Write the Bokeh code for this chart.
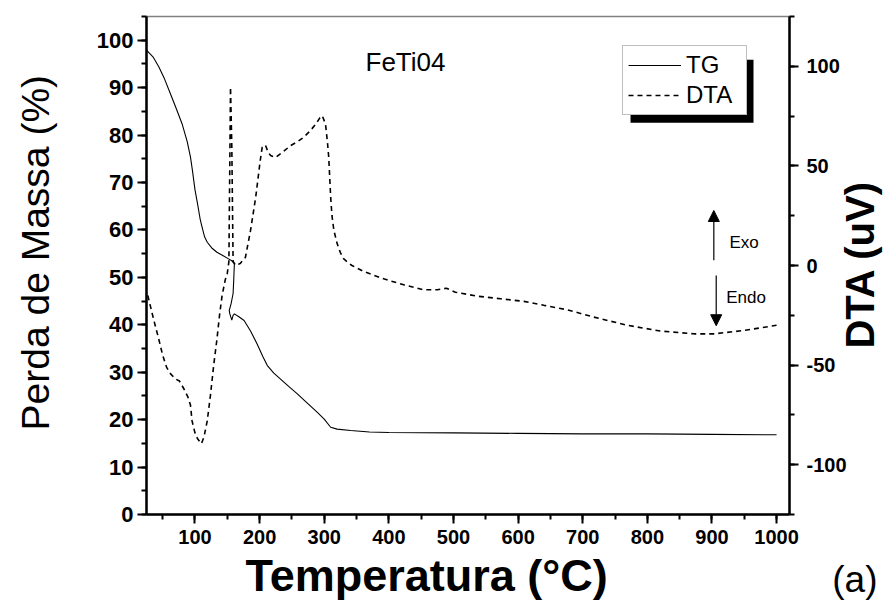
from math import pi
from bokeh.plotting import figure
from bokeh.models import (Range1d, LinearAxis, SingleIntervalTicker, Legend, LegendItem,
                          Label, Arrow, NormalHead, BoxAnnotation, Title, PrintfTickFormatter)
from bokeh.embed import file_html
from bokeh.resources import INLINE

# ---- data ----
tg_temp = [25, 35, 44, 53, 62, 71, 80, 88, 93, 96, 100, 104, 108, 111, 115, 119, 126, 134,
           143, 152, 157, 161, 160, 159, 156, 153, 154, 157, 159, 161, 168, 176, 186, 196,
           205, 212, 222, 232, 245, 258, 273, 289, 300, 310, 320, 341, 370, 400, 500, 600,
           700, 800, 900, 1000]
tg_mass = [97.9, 96.5, 94.4, 91.8, 88.7, 85.6, 82.4, 78.6, 75.4, 72.6, 68.5, 65.5, 62.3, 60.6,
           58.5, 57.4, 56.2, 55.3, 54.6, 53.9, 53.5, 52.9, 49.5, 46.6, 44.5, 43.0, 42.3, 41.0,
           42.0, 42.3, 41.7, 40.9, 38.7, 36.0, 33.3, 31.4, 29.8, 28.6, 27.0, 25.5, 23.6, 21.6,
           20.1, 18.4, 18.0, 17.7, 17.4, 17.3, 17.2, 17.1, 17.0, 17.0, 16.9, 16.8]

dta_temp = [27, 36, 44, 50, 56, 62, 70, 76, 83, 89, 93, 95.5, 100, 104, 110, 114, 119, 124,
            129, 134, 138, 142, 147, 150, 152.5, 155, 157, 159, 163, 170, 178, 186, 194, 201,
            204, 209, 213, 217, 225, 236, 248, 258, 268, 278, 287, 293, 297, 302, 305, 307,
            310, 312, 315, 320, 325, 330, 336, 343, 361, 392, 423, 454, 475, 489, 503, 537,
            573, 609, 640, 676, 717, 769, 820, 872, 903, 950, 1000]
dta_signal = [-15, -27, -37, -45, -51, -54.3, -57, -58, -62, -66, -70, -78, -84, -87, -89.5,
              -86, -78, -65, -50, -37, -25, -15, -7, -4, 2, 89.5, 60, 2, 0, 1, 4, 17.6, 34.3,
              52.7, 59.3, 60.5, 57, 55.2, 54.3, 57, 60.2, 62, 64.3, 67.5, 71, 74, 75.2, 71, 62,
              54.3, 34.3, 25, 17.6, 11, 6.5, 3.4, 1.7, 0, -3, -6.7, -9.7, -12.2, -12.2, -11.4,
              -13.4, -15.4, -16.7, -18, -20, -22.2, -25.9, -30, -32.9, -34.3, -34.3, -32.6, -30]

series_labels = ["TG", "DTA"]
x_title = "Temperatura (°C)"
y_title = "Perda de Massa (%)"
y2_title = "DTA (uV)"
sample_name = "FeTi04"
panel_tag = "(a)"

FONT = "Liberation Sans"

p = figure(width=886, height=607, x_range=Range1d(25, 1020), y_range=Range1d(0, 105),
           output_backend="svg", toolbar_location=None,
           min_border_left=146, min_border_right=97, min_border_top=16, min_border_bottom=93)
p.extra_y_ranges = {"dta": Range1d(-125, 125)}
p.grid.visible = False
p.outline_line_color = "#808080"
p.outline_line_width = 1.5
p.background_fill_color = "white"
p.border_fill_color = "white"

tg_r = p.line(tg_temp, tg_mass, line_color="black", line_width=1.1)
dta_r = p.line(dta_temp, dta_signal, line_color="black", line_width=1.6,
               line_dash="5 4", y_range_name="dta")

right_axis = LinearAxis(y_range_name="dta")
p.add_layout(right_axis, "right")

p.xaxis[0].ticker = SingleIntervalTicker(interval=100, num_minor_ticks=2)
p.yaxis[0].ticker = SingleIntervalTicker(interval=10, num_minor_ticks=2)
right_axis.ticker = SingleIntervalTicker(interval=50, num_minor_ticks=2)
right_axis.formatter = PrintfTickFormatter(format="%d")


def style(ax, size, standoff):
    ax.axis_line_width = 2.5
    ax.axis_line_color = "black"
    ax.major_tick_line_width = 2
    ax.minor_tick_line_width = 2
    ax.major_tick_line_color = "black"
    ax.minor_tick_line_color = "black"
    ax.major_tick_out = 9
    ax.major_tick_in = 0
    ax.minor_tick_out = 5
    ax.minor_tick_in = 0
    ax.major_label_text_font = FONT
    ax.major_label_text_font_style = "bold"
    ax.major_label_text_font_size = size
    ax.major_label_text_color = "black"
    ax.major_label_standoff = standoff


style(p.xaxis[0], "20px", 6)
style(p.yaxis[0], "22px", 4)
style(right_axis, "20px", 8)

# side titles: labels placed in the (roomy) left side panel, positioned in data units
perda_title = Label(x=-146.8, y=55.2, text=y_title, angle=pi / 2, text_align="center",
                    text_baseline="middle", text_font=FONT, text_font_size="39px",
                    text_color="black")
dta_title = Label(x=1128.4, y=52.7, text=y2_title, angle=pi / 2, text_align="center",
                  text_baseline="middle", text_font=FONT, text_font_size="40px",
                  text_font_style="bold", text_color="black")
p.add_layout(perda_title, "left")
p.add_layout(dta_title, "left")

# bottom titles
t1 = Title(text=x_title, align="left", vertical_align="bottom", offset=99, standoff=3,
           text_font=FONT, text_font_size="45px", text_font_style="bold", text_color="black")
t2 = Title(text=panel_tag, align="right", vertical_align="top", offset=-88, standoff=-87,
           text_font=FONT, text_font_size="37px", text_font_style="normal", text_color="black")
p.add_layout(t1, "below")
p.add_layout(t2, "below")

# texts inside the frame
p.add_layout(Label(x=425.8, y=95.4, text=sample_name, text_align="center",
                   text_baseline="alphabetic", text_font=FONT, text_font_size="26px",
                   text_color="black"))
p.add_layout(Label(x=927.2, y=57.3, text="Exo", text_align="left", text_baseline="middle",
                   text_font=FONT, text_font_size="17px", text_color="black"))
p.add_layout(Label(x=922.1, y=45.8, text="Endo", text_align="left", text_baseline="middle",
                   text_font=FONT, text_font_size="17px", text_color="black"))

p.add_layout(Arrow(end=NormalHead(size=11, fill_color="black", line_color="black"),
                   x_start=902.9, y_start=53.6, x_end=902.9, y_end=64.1,
                   line_color="black", line_width=1.2))
p.add_layout(Arrow(end=NormalHead(size=11, fill_color="black", line_color="black"),
                   x_start=906.6, y_start=50.4, x_end=906.6, y_end=39.8,
                   line_color="black", line_width=1.2))

# legend shadow then legend
p.add_layout(BoxAnnotation(left=774.0, right=964.3, top=95.9, bottom=82.6,
                           fill_color="black", fill_alpha=1.0, line_alpha=0))
legend = Legend(items=[LegendItem(label=series_labels[0], renderers=[tg_r]),
                       LegendItem(label=series_labels[1], renderers=[dta_r])],
                location=(476, 399))
legend.label_text_font = FONT
legend.label_text_font_size = "24px"
legend.label_text_color = "black"
legend.glyph_width = 53
legend.glyph_height = 26
legend.label_height = 26
legend.label_width = 55
legend.label_standoff = 5
legend.padding = 5
legend.spacing = 2
legend.margin = 0
legend.border_line_color = "#808080"
legend.border_line_width = 1
legend.background_fill_color = "white"
legend.background_fill_alpha = 1.0
p.add_layout(legend)

open("out.html", "w").write(file_html(p, INLINE))
